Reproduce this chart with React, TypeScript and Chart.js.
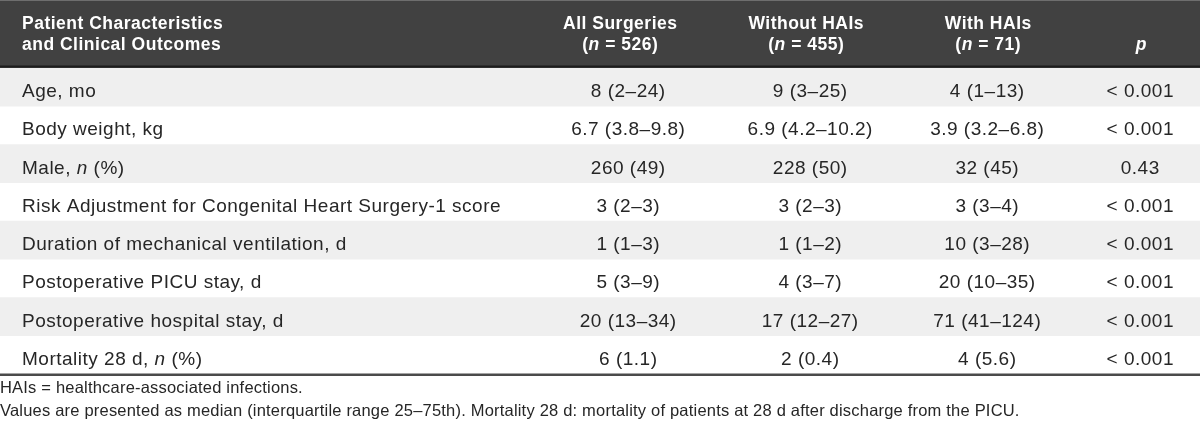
import { useEffect, useRef } from "react";
import { Chart, registerables } from "chart.js";

Chart.register(...registerables);

// ---- table content ----
const rowLabels = [
  "Age, mo",
  "Body weight, kg",
  "Male, *n* (%)",
  "Risk Adjustment for Congenital Heart Surgery-1 score",
  "Duration of mechanical ventilation, d",
  "Postoperative PICU stay, d",
  "Postoperative hospital stay, d",
  "Mortality 28 d, *n* (%)",
];
const allSurgeries = ["8 (2–24)", "6.7 (3.8–9.8)", "260 (49)", "3 (2–3)", "1 (1–3)", "5 (3–9)", "20 (13–34)", "6 (1.1)"];
const withoutHAIs = ["9 (3–25)", "6.9 (4.2–10.2)", "228 (50)", "3 (2–3)", "1 (1–2)", "4 (3–7)", "17 (12–27)", "2 (0.4)"];
const withHAIs = ["4 (1–13)", "3.9 (3.2–6.8)", "32 (45)", "3 (3–4)", "10 (3–28)", "20 (10–35)", "71 (41–124)", "4 (5.6)"];
const pValues = ["< 0.001", "< 0.001", "0.43", "< 0.001", "< 0.001", "< 0.001", "< 0.001", "< 0.001"];
const firstHeader = ["Patient Characteristics", "and Clinical Outcomes"];
const columnTitles = ["All Surgeries", "Without HAIs", "With HAIs", ""];
const columnSubtitles = ["(*n* = 526)", "(*n* = 455)", "(*n* = 71)", "*p*"];
const footnotes = [
  "HAIs = healthcare-associated infections.",
  "Values are presented as median (interquartile range 25–75th). Mortality 28 d: mortality of patients at 28 d after discharge from the PICU.",
];

const FAMILY = '"Liberation Sans", Arial, Helvetica, sans-serif';

function drawRich(
  ctx: CanvasRenderingContext2D,
  text: string,
  x: number,
  y: number,
  align: "left" | "center" | "right",
  weight: string,
  size: number,
  spacing: number
) {
  const c: any = ctx;
  c.letterSpacing = `${spacing}px`;
  const parts = text.split("*");
  const fonts = parts.map((_, i) => `${i % 2 === 1 ? "italic " : ""}${weight} ${size}px ${FAMILY}`);
  let total = 0;
  const widths = parts.map((p, i) => {
    ctx.font = fonts[i];
    const w = ctx.measureText(p).width;
    total += w;
    return w;
  });
  total -= spacing;
  let cx = align === "left" ? x : align === "center" ? x - total / 2 : x - total;
  ctx.textAlign = "left";
  ctx.textBaseline = "alphabetic";
  parts.forEach((p, i) => {
    ctx.font = fonts[i];
    ctx.fillText(p, cx, y);
    cx += widths[i];
  });
  c.letterSpacing = "0px";
}

const tablePlugin = {
  id: "tableText",
  beforeDatasetsDraw(chart: any, _args: any, opts: any) {
    const { ctx, chartArea, width } = chart;
    ctx.save();
    ctx.fillStyle = opts.headerColor;
    ctx.fillRect(0, 0, width, chartArea.top);
    ctx.fillStyle = "#6e6e6e";
    ctx.fillRect(0, 0, width, 1);
    ctx.fillStyle = "#1c1c1c";
    ctx.fillRect(0, chartArea.top - 2.5, width, 2);
    ctx.restore();
  },
  afterDatasetsDraw(chart: any, _args: any, opts: any) {
    const { ctx, chartArea, width, scales } = chart;
    const x = scales.x;
    const y = scales.y;
    ctx.save();
    // header
    ctx.fillStyle = "#ffffff";
    const hs = opts.headerSize;
    const hsp = opts.headerSpacing;
    drawRich(ctx, firstHeader[0], x.getPixelForValue(opts.labelX), opts.headerBaselines[0], "left", "bold", hs, hsp);
    drawRich(ctx, firstHeader[1], x.getPixelForValue(opts.labelX), opts.headerBaselines[1], "left", "bold", hs, hsp);
    columnTitles.forEach((t, c) => {
      const cx = x.getPixelForValue(opts.headerCenters[c]);
      if (t) drawRich(ctx, t, cx, opts.headerBaselines[0], "center", "bold", hs, hsp);
      drawRich(ctx, columnSubtitles[c], cx, opts.headerBaselines[1], "center", "bold", hs, hsp);
    });
    // body
    ctx.fillStyle = opts.textColor;
    const cols = [allSurgeries, withoutHAIs, withHAIs, pValues];
    rowLabels.forEach((label, r) => {
      const cy = y.getPixelForValue(r) + opts.baselineShift;
      drawRich(ctx, label, x.getPixelForValue(opts.labelX), cy, "left", "normal", opts.bodySize, opts.bodySpacing);
      cols.forEach((col, c) => {
        drawRich(ctx, col[r], x.getPixelForValue(opts.valueCenters[c]), cy, "center", "normal", opts.bodySize, opts.bodySpacing);
      });
    });
    // bottom rule
    ctx.fillStyle = "#4a4a4a";
    ctx.fillRect(0, chartArea.bottom - 0.5, width, 2.5);
    // footnotes
    ctx.fillStyle = opts.textColor;
    footnotes.forEach((f, i) => {
      drawRich(ctx, f, 0, chartArea.bottom + opts.footBaselines[i], "left", "normal", opts.footSize, opts.footSpacing);
    });
    ctx.restore();
  },
};

export default function App() {
  const ref = useRef<HTMLCanvasElement | null>(null);
  useEffect(() => {
    document.body.style.margin = "0";
    const canvas = ref.current;
    if (!canvas) return;
    const chart = new Chart(canvas, {
      type: "bar",
      data: {
        labels: rowLabels,
        datasets: [
          {
            label: "shading",
            data: rowLabels.map((_, i) => (i % 2 === 0 ? [0, 1200] : null)) as any,
            backgroundColor: "#efefef",
            borderWidth: 0,
            barPercentage: 1,
            categoryPercentage: 1,
          },
        ],
      },
      options: {
        indexAxis: "y",
        responsive: false,
        devicePixelRatio: 1,
        animation: false,
        events: [],
        layout: { padding: { top: 68, bottom: 54, left: 0, right: 0 } },
        scales: {
          x: { type: "linear", min: 0, max: 1200, display: false },
          y: { type: "category", display: false, offset: true },
        },
        plugins: {
          legend: { display: false },
          tooltip: { enabled: false },
          tableText: {
            headerColor: "#414141",
            textColor: "#262626",
            labelX: 22,
            headerCenters: [620, 806, 988, 1141],
            valueCenters: [628, 810, 987, 1140],
            headerBaselines: [29, 50],
            headerSize: 17.5,
            headerSpacing: 0.5,
            baselineShift: 10,
            bodySize: 19,
            bodySpacing: 0.5,
            footSize: 16.5,
            footSpacing: 0.2,
            footBaselines: [19, 42],
          },
        } as any,
      },
      plugins: [tablePlugin],
    });
    return () => chart.destroy();
  }, []);
  return (
    <div style={{ position: "absolute", left: 0, top: 0, width: 1200, height: 428, background: "#fff" }}>
      <canvas ref={ref} width={1200} height={428} />
    </div>
  );
}
